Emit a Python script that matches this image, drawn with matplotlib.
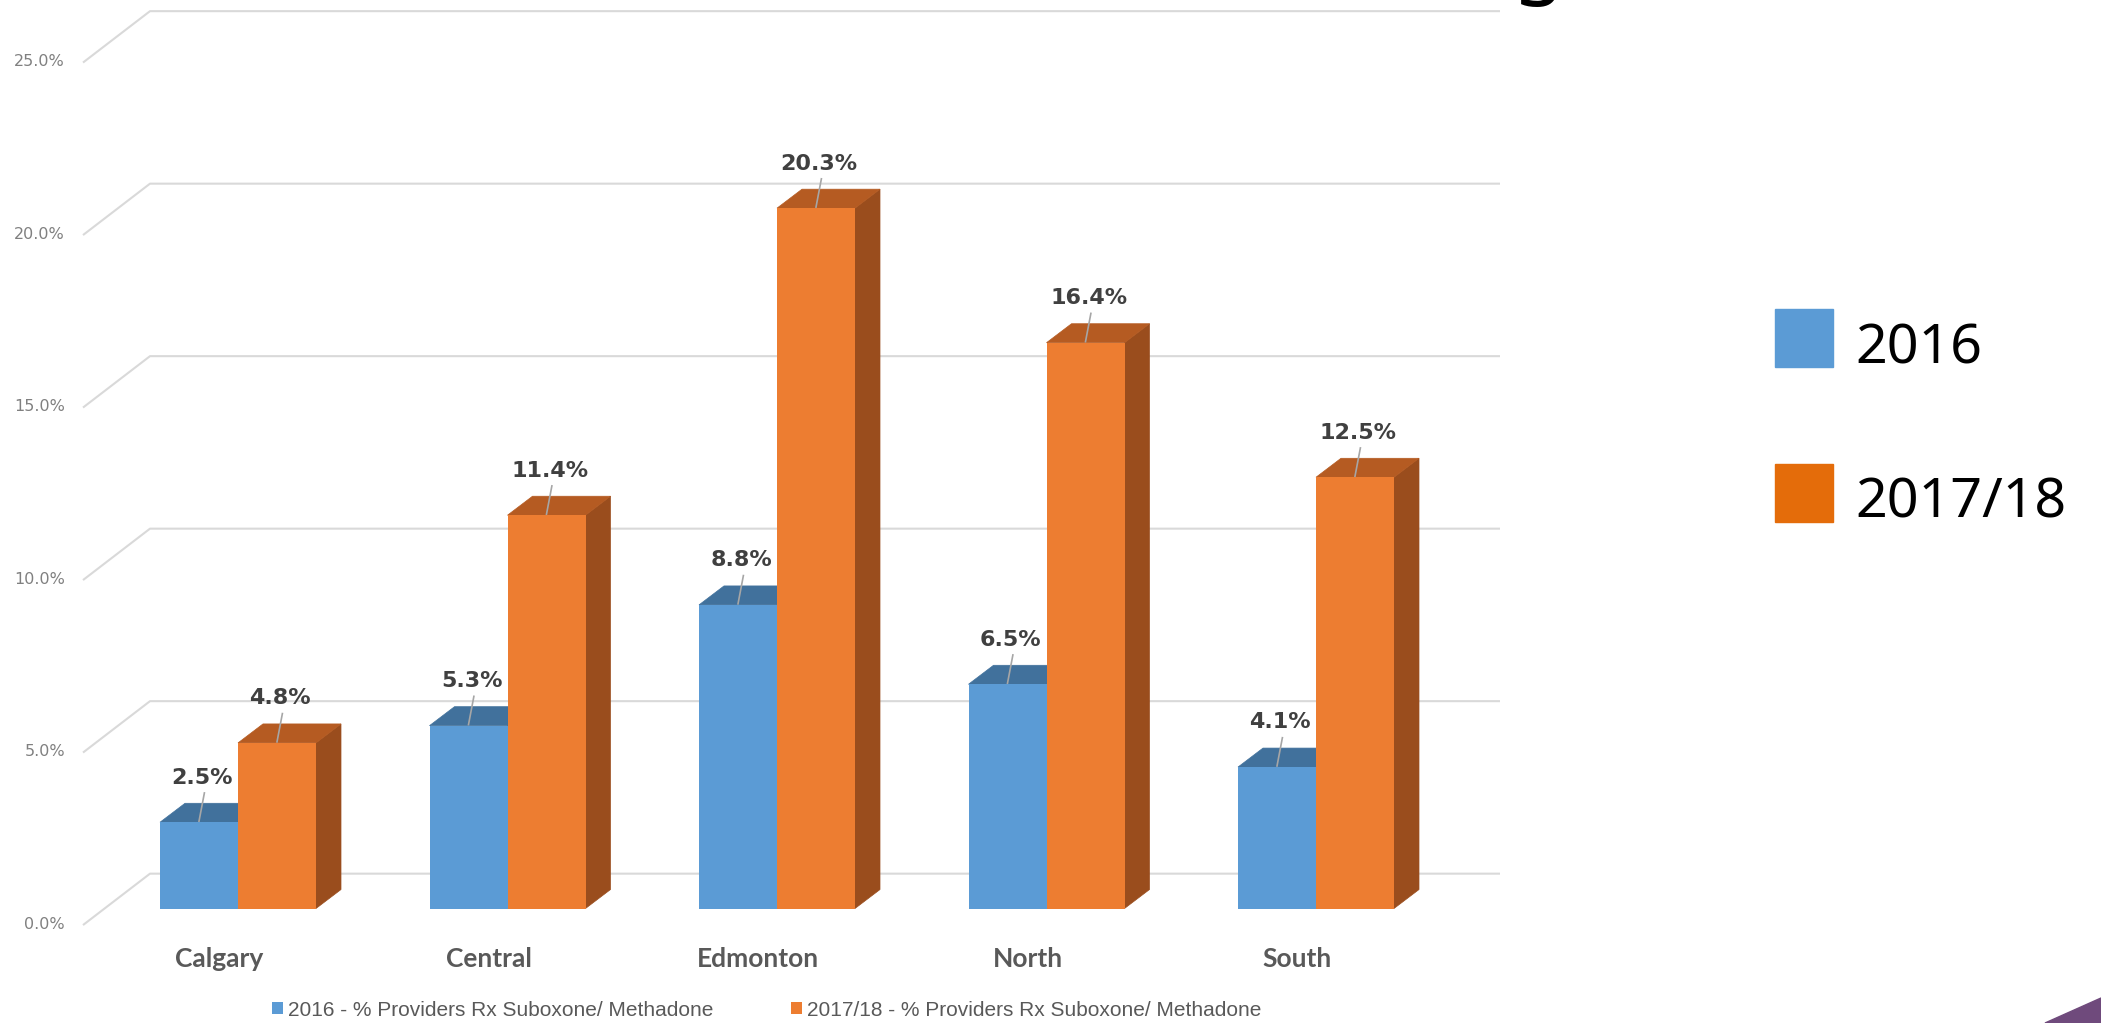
import matplotlib.pyplot as plt
from matplotlib.patches import Polygon, Rectangle
import numpy as np

regions = ["Calgary", "Central", "Edmonton", "North", "South"]
pct_2016 = [2.5, 5.3, 8.8, 6.5, 4.1]
pct_2017 = [4.8, 11.4, 20.3, 16.4, 12.5]
y_ticks = [0, 5, 10, 15, 20, 25]
series_names = ["2016 - % Providers Rx Suboxone/ Methadone",
                "2017/18 - % Providers Rx Suboxone/ Methadone"]
big_labels = ["2016", "2017/18"]

W, H = 2101, 1023

fig = plt.figure(figsize=(W / 100, H / 100), dpi=100)
ax = fig.add_axes([0, 0, 1, 1])


# pixel -> data helpers (category units across, percent up)
def px_x(p):
    return (p - 238) / 269.5


def px_y(p):
    return (908.5 - p) / 34.5


ax.set_xlim(px_x(0), px_x(W))
ax.set_ylim(px_y(H), px_y(0))
ax.axis("off")

# back wall gridlines with the left wall diagonal
for v in y_ticks:
    yb = v + 1.01
    xs = [px_x(83), px_x(150), px_x(1500)]
    ys = [v - 0.48, yb, yb]
    ax.plot(xs, ys, color="#D9D9D9", lw=1.5, zorder=1, solid_capstyle="butt")
    ax.text(px_x(65), v - 0.45, f"{v:.1f}%", ha="right", va="center",
            fontsize=11.5, color="#808080")

x = np.arange(len(regions))
w = 78 / 269.5
ddx, ddy = 25 / 269.5, 0.55

series = [
    (pct_2016, -w, "#5B9BD5", "#41719C", "#34608A", 2),
    (pct_2017, 0.0, "#ED7D31", "#B55B22", "#9A4D1D", 5),
]
handles = []
for vals, off, front, top, side, z in series:
    for xi, v in zip(x, vals):
        x0 = xi + off
        ax.add_patch(Polygon([(x0 + w, 0), (x0 + w + ddx, ddy), (x0 + w + ddx, v + ddy), (x0 + w, v)],
                             facecolor=side, edgecolor=side, lw=0.5, zorder=z))
        ax.add_patch(Polygon([(x0, v), (x0 + w, v), (x0 + w + ddx, v + ddy), (x0 + ddx, v + ddy)],
                             facecolor=top, edgecolor=top, lw=0.5, zorder=z))
    bars = ax.bar(x + off, vals, width=w, align="edge", color=front, zorder=z + 1, linewidth=0)
    handles.append(bars)
    for xi, v in zip(x, vals):
        xc = xi + off + w / 2
        ax.plot([xc, xc + 0.02], [v + 0.03, v + 0.85], color="#A6A6A6", lw=1.2, zorder=z + 2)
        ax.text(xc + 0.012, v + 1.12, f"{v}%", ha="center", va="baseline", fontsize=16,
                fontweight="bold", color="#404040", zorder=10)

for xi, name in zip(x, regions):
    ax.text(xi - 0.07, px_y(967), name, ha="center", va="baseline", fontsize=19,
            fontweight="bold", color="#595959", family="Lato")

fig.legend(handles, series_names, loc="center left", bbox_to_anchor=(272 / W, 1 - 1010 / H),
           ncol=2, frameon=False, handlelength=0.53, handleheight=0.53,
           handletextpad=0.25, columnspacing=3.7, borderpad=0, borderaxespad=0,
           labelcolor="#595959", prop={"family": "Liberation Sans", "size": 15})

# big slide legend on the right
for (top_px, lab, col) in [(309, big_labels[0], "#5B9BD5"), (464, big_labels[1], "#E46C0A")]:
    fig.add_artist(Rectangle((1775 / W, 1 - (top_px + 58) / H), 58 / W, 58 / H,
                             transform=fig.transFigure, color=col))
    fig.text(1855 / W, 1 - (top_px + 54) / H, lab, ha="left", va="baseline",
             fontsize=40, color="black", family="Noto Sans")

# slide decorations: clipped title glyph and purple corner
fig.text(1538 / W, 1 - 7 / H, "g", ha="center", va="bottom", fontsize=60,
         color="black", family="Noto Sans")
fig.add_artist(Polygon([(2045 / W, 0), (1, 25 / H), (1, 0)], transform=fig.transFigure,
                       color="#6F4A7C"))

fig.savefig("out.png", dpi=100)
